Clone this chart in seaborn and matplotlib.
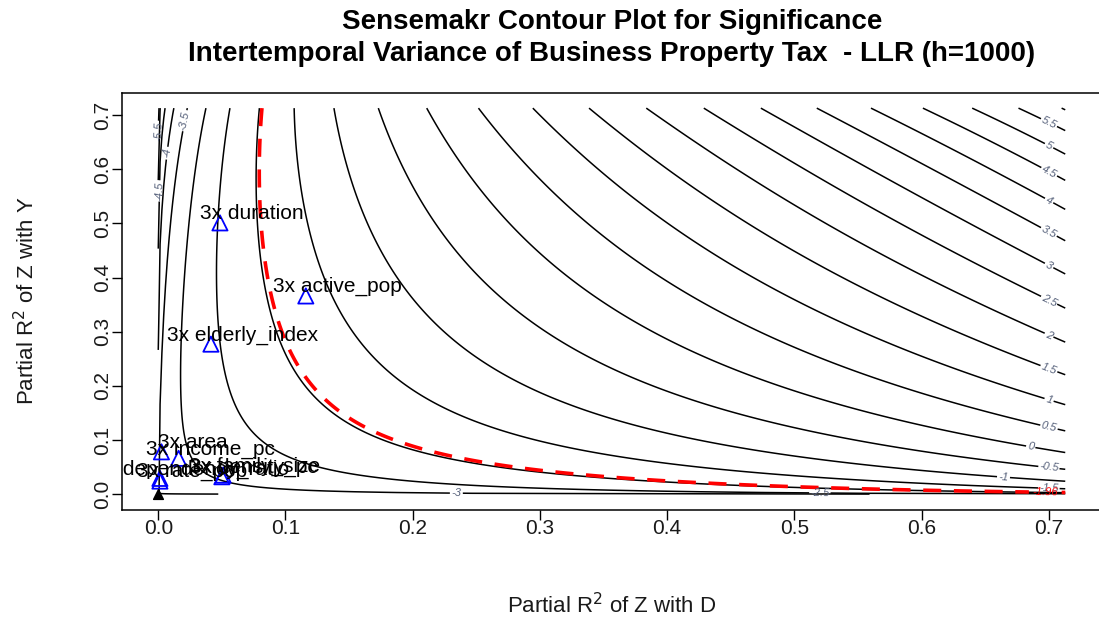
import numpy as np
import matplotlib
matplotlib.use("Agg")
import matplotlib.pyplot as plt
import seaborn as sns

# adjusted t-value surface, parameters fitted to the contours of the reference
t_unadjusted = -3.534
bias_scale = 6.633
bias_power = 0.38
d_power = 0.20
y_power = 0.40
grid_lim = 0.713
threshold = -1.96
levels = np.arange(-6.5, 6.51, 0.5)

# benchmark bounds (partial R2 with D, partial R2 with Y)
bench_labels = ["3x duration", "3x active_pop", "3x elderly_index", "3x area",
                "3x income_pc", "3x dependency_ratio", "3x rate_pop", "3x density_pc",
                "3x family_size"]
bench_r2dz = [0.0485, 0.116, 0.0414, 0.0025, 0.016, 0.0013, 0.0013, 0.050, 0.051]
bench_r2yz = [0.501, 0.366, 0.277, 0.078, 0.066, 0.029, 0.024, 0.032, 0.035]

x_ticks = [0.0, 0.1, 0.2, 0.3, 0.4, 0.5, 0.6, 0.7]
y_ticks = [0.0, 0.1, 0.2, 0.3, 0.4, 0.5, 0.6, 0.7]

sns.set_theme(style="ticks")
plt.rcParams["font.family"] = ["Liberation Sans", "DejaVu Sans"]
plt.rcParams["contour.negative_linestyle"] = "solid"
plt.rcParams["text.color"] = "black"

W, H = 1099, 623
fig = plt.figure(figsize=(W / 100, H / 100), dpi=100)
ax = fig.add_axes([122 / W, 1 - 509.5 / H, (1101.5 - 122) / W, (509.5 - 92.7) / H])

g = np.linspace(0, grid_lim, 500)
X, Y = np.meshgrid(g, g)
T = ((t_unadjusted + bias_scale * (Y * X / (1 - X)) ** bias_power)
     * (1 - X) ** d_power / (1 - Y) ** y_power)


def point_on(level, x0=None, y0=None):
    # first grid point where the surface crosses `level`, along column x0 or row y0
    if x0 is not None:
        col = np.argmin(abs(g - x0))
        z = T[:, col]
    else:
        row = np.argmin(abs(g - y0))
        z = T[row, :]
    i = np.where(np.diff(np.sign(z - level)))[0]
    i = i[0] if len(i) else 0
    if x0 is not None:
        return (g[col], g[i])
    return (g[i], g[row])


cs = ax.contour(X, Y, T, levels=levels, colors="black", linewidths=1.1)
label_pos = [point_on(v, x0=0.70) for v in np.arange(-1.5, 5.51, 0.5) if v not in (-1, 0)]
label_pos += [point_on(-1, x0=0.665), point_on(0, x0=0.686)]
label_pos += [point_on(-3, x0=0.234), point_on(-2.5, x0=0.52)]
label_pos += [point_on(-5, y0=0.67), point_on(-4.5, y0=0.56), point_on(-4, y0=0.63),
              point_on(-3.5, y0=0.69)]
lbl = ax.clabel(cs, manual=label_pos, fontsize=8, colors="#55607a",
                fmt=lambda v: f"{v:g}", inline_spacing=2)
for t in lbl:
    t.set_fontstyle("italic")

cr = ax.contour(X, Y, T, levels=[threshold], colors="red", linewidths=2.6,
                linestyles=[(0, (5, 3.5))])
rl = ax.clabel(cr, manual=[point_on(threshold, x0=0.697)], fontsize=8, colors="red",
               fmt=lambda v: f"{v:g}")
for t in rl:
    t.set_fontstyle("italic")

sns.scatterplot(x=bench_r2dz, y=bench_r2yz, marker="^", s=120, facecolor="none",
                edgecolor="blue", linewidth=1.3, ax=ax, zorder=4)
ax.scatter([0.0], [0.0], marker="^", s=50, color="black", zorder=5)
for name, bx, by in zip(bench_labels, bench_r2dz, bench_r2yz):
    ax.text(bx + 0.025, by + 0.017, name, ha="center", va="center", fontsize=15,
            color="black", clip_on=True, zorder=6)

ax.set_xlim(-0.0285, 0.7415)
ax.set_ylim(-0.0285, 0.7415)
ax.set_xticks(x_ticks)
ax.set_yticks(y_ticks)
ax.set_xticklabels([f"{v:.1f}" for v in x_ticks])
ax.set_yticklabels([f"{v:.1f}" for v in y_ticks], rotation=90, va="center")
ax.tick_params(axis="both", length=7, width=1, color="black", labelsize=15,
               labelcolor="#1a1a1a", direction="out", pad=0)
for sp in ax.spines.values():
    sp.set_visible(True)
    sp.set_color("black")
    sp.set_linewidth(1.1)

fig.text(611.7 / W, 1 - 606 / H, "Partial R$^2$ of Z with D", ha="center", va="center",
         fontsize=16, color="#1a1a1a")
fig.text(27 / W, 1 - 301 / H, "Partial R$^2$ of Z with Y", ha="center", va="center",
         fontsize=16, color="#1a1a1a", rotation=90)
fig.text(611.7 / W, 1 - 22 / H, "Sensemakr Contour Plot for Significance",
         ha="center", va="center", fontsize=20, fontweight="bold")
fig.text(611.7 / W, 1 - 54 / H, "Intertemporal Variance of Business Property Tax  - LLR (h=1000)",
         ha="center", va="center", fontsize=20, fontweight="bold")

fig.savefig("out.png", dpi=100)
